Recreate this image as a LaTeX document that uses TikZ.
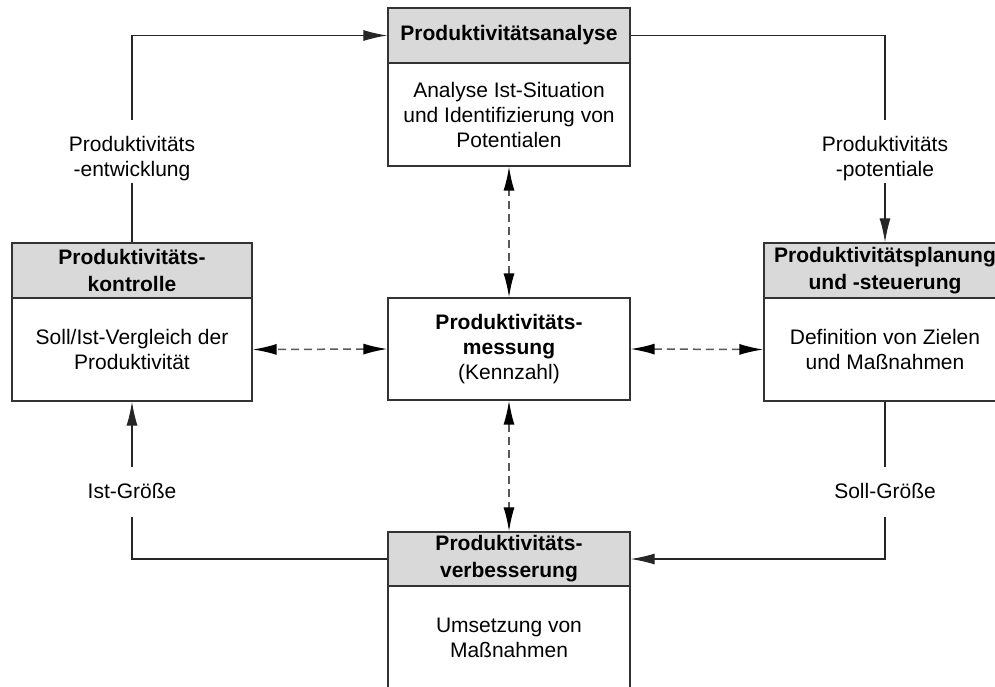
\documentclass[tikz,border=0pt]{standalone}
\usepackage{fontspec}
\setmainfont{Liberation Sans}
\usetikzlibrary{arrows.meta}
\tikzset{
  box/.style={draw=black!80, line width=1.3pt, inner sep=0pt, align=center,
    minimum width=242pt, font=\fontsize{21}{25}\selectfont},
  head/.style={box, fill=black!15, minimum height=55pt,
    font=\fontsize{21}{27}\selectfont\bfseries},
  body/.style={box, fill=white, minimum height=103pt},
  lab/.style={inner sep=0pt, align=center, font=\fontsize{21}{25}\selectfont},
  flow/.style={draw=black!85, line width=1.2pt},
  tip/.style={-{Latex[length=24pt,width=11pt]}},
  dasharrow/.style={draw=black!65, line width=1.5pt, dash pattern=on 8pt off 5pt,
    {Latex[length=24pt,width=11pt,color=black]}-{Latex[length=24pt,width=11pt,color=black]}},
}
\begin{document}
\begin{tikzpicture}[x=1pt, y=-1pt]
\useasboundingbox (0,0) rectangle (995,686);

% analysis (top)
\node[head] (anaH) at (509,35.5) {Produktivitätsanalyse};
\node[body] (anaB) at (509,114.5) {Analyse Ist-Situation\\und Identifizierung von\\Potentialen};

% control (left)
\node[head, minimum width=240pt] (konH) at (132,270.5) {Produktivitäts-\\kontrolle};
\node[body, minimum width=240pt] (konB) at (132,349.5) {Soll/Ist-Vergleich der\\Produktivität};

% planning (right)
\node[head] (plaH) at (885,270.5) {Produktivitätsplanung\\und -steuerung};
\node[body] (plaB) at (885,349.5) {Definition von Zielen\\und Maßnahmen};

% measurement (centre)
\node[box, minimum height=102pt] (mes) at (509,349)
  {\textbf{Produktivitäts-}\\\textbf{messung}\\(Kennzahl)};

% improvement (bottom)
\node[head, minimum height=54pt] (verH) at (509,559) {Produktivitäts-\\verbesserung};
\node[body] (verB) at (509,637.5) {Umsetzung von\\Maßnahmen};

% connector labels
\node[lab] (labA) at (132,159) {Produktivitäts\\-entwicklung};
\node[lab] (labB) at (885,159) {Produktivitäts\\-potentiale};
\node[lab] (labC) at (885,490.5) {Soll-Größe};
\node[lab] (labD) at (132,490.5) {Ist-Größe};

% control loop
\draw[flow] (konH.north) -- ([yshift=-1.6pt]labA.south);
\draw[flow, tip] ([yshift=16.5pt]labA.north) |- (anaH.west);
\draw[flow] (anaH.east) -| ([yshift=16.5pt]labB.north);
\draw[flow, tip] ([yshift=-1.6pt]labB.south) -- (plaH.north);
\draw[flow] (plaB.south) -- ([yshift=15.6pt]labC.north);
\draw[flow, tip] ([yshift=-18.7pt]labC.south) |- (verH.east);
\draw[flow] (verH.west) -| ([yshift=-18.7pt]labD.south);
\draw[flow, tip] ([yshift=15.6pt]labD.north) -- (konB.south);

% measurement links
\draw[dasharrow] (mes.north) -- (anaB.south);
\draw[dasharrow] (mes.south) -- (verH.north);
\draw[dasharrow] (mes.west) -- (konB.east);
\draw[dasharrow] (mes.east) -- (plaB.west);
\end{tikzpicture}
\end{document}
